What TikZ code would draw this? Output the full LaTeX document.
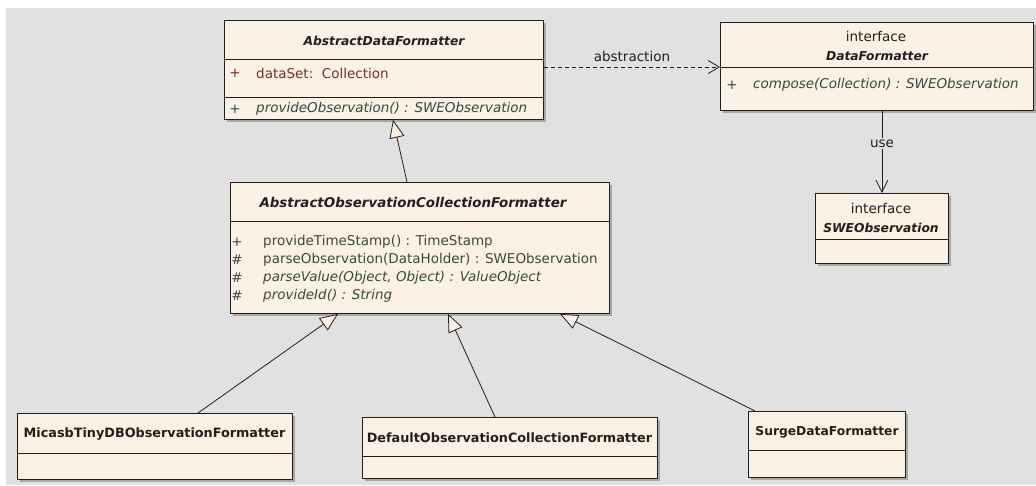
\documentclass[tikz,border=0pt]{standalone}
\usepackage{fontspec}
\setmainfont{DejaVu Sans}
\usetikzlibrary{arrows.meta,shadows}

\definecolor{canvas}{HTML}{E1E1E1}
\definecolor{classfill}{HTML}{FBF2E5}
\definecolor{edgecol}{HTML}{1E1E1E}
\definecolor{namecol}{HTML}{231F1F}
\definecolor{attrcol}{HTML}{7A2E2A}
\definecolor{opcol}{HTML}{2F4A44}
\definecolor{viscol}{HTML}{3A4A3A}

\newcommand\regfont{\fontsize{13.5}{16}\selectfont}
\newcommand\namefont{\fontsize{12.3}{15}\selectfont\bfseries}
\newcommand\bignamefont{\fontsize{13.4}{16}\selectfont\bfseries}
\newcommand\leafnamefont{\fontsize{12.8}{15}\selectfont\bfseries}

\tikzset{
  classbox/.style={draw=edgecol, line width=0.9pt, fill=classfill, anchor=north west,
    inner sep=0pt, drop shadow={shadow xshift=2.5pt, shadow yshift=-2.5pt, opacity=0.25, fill=black}},
  sepline/.style={draw=edgecol, line width=0.9pt},
  absname/.style={font=\namefont\itshape, text=namecol, inner sep=0pt},
  concname/.style={font=\leafnamefont, text=namecol, inner sep=0pt},
  stereo/.style={font=\regfont, text=namecol, inner sep=0pt},
  vis/.style={font=\regfont, text=viscol, inner sep=0pt},
  member/.style={font=\regfont, anchor=west, inner sep=0pt},
  gen/.style={draw=edgecol, line width=0.8pt, -{Triangle[length=18pt, width=15pt, fill=classfill]}},
  realize/.style={draw=edgecol, line width=0.8pt, dashed, dash pattern=on 4pt off 3pt,
    -{Straight Barb[length=11pt, width=13pt]}},
  usage/.style={draw=edgecol, line width=0.8pt, -{Straight Barb[length=12pt, width=12pt]}},
  edgelabel/.style={font=\regfont, text=namecol, inner sep=1.5pt}
}

\begin{document}
\begin{tikzpicture}[x=1pt, y=-1pt]
  % page and canvas
  \useasboundingbox (0,0) rectangle (1036,485);
  \fill[white] (0,0) rectangle (1036,485);
  \fill[canvas] (6,8) rectangle (1036,485);

  % AbstractDataFormatter
  \node[classbox, minimum width=319pt, minimum height=99pt] (adf) at (224,20) {};
  \draw[sepline] (224,59) -- (543,59);
  \draw[sepline] (224,97) -- (543,97);
  \node[absname] (adfname) at (384,41) {AbstractDataFormatter};
  \node[vis, text=attrcol] (adfv1) at (235,73) {+};
  \node[member, text=attrcol] (adfa1) at (256,73) {dataSet:\ \ Collection};
  \node[vis, text=opcol] (adfv2) at (235,109) {+};
  \node[member, text=opcol, font=\regfont\itshape] (adfo1) at (256,109) {provideObservation() : SWEObservation};

  % interface DataFormatter
  \node[classbox, minimum width=313pt, minimum height=88pt] (df) at (720,22) {};
  \draw[sepline] (720,67) -- (1033,67);
  \node[stereo] (dfst) at (876,36) {interface};
  \node[absname] (dfname) at (877,56) {DataFormatter};
  \node[vis, text=opcol] (dfv1) at (732,85) {+};
  \node[member, text=opcol, font=\regfont\itshape] (dfo1) at (753,85) {compose(Collection) : SWEObservation};

  % interface SWEObservation
  \node[classbox, minimum width=133pt, minimum height=70pt] (swe) at (815,193) {};
  \draw[sepline] (815,239) -- (948,239);
  \node[stereo] (swest) at (881,208) {interface};
  \node[absname] (swename) at (881,228) {SWEObservation};

  % AbstractObservationCollectionFormatter
  \node[classbox, minimum width=379pt, minimum height=131pt] (aocf) at (230,182) {};
  \draw[sepline] (230,221) -- (609,221);
  \node[absname, font=\bignamefont\itshape] (aocfname) at (413,202) {AbstractObservationCollectionFormatter};
  \node[vis] (aocfv1) at (237,242) {+};
  \node[member, text=viscol] (aocfo1) at (263,242) {provideTimeStamp() : TimeStamp};
  \node[vis] (aocfv2) at (237,260) {\#};
  \node[member, text=viscol] (aocfo2) at (263,260) {parseObservation(DataHolder) : SWEObservation};
  \node[vis] (aocfv3) at (237,278) {\#};
  \node[member, text=viscol, font=\regfont\itshape] (aocfo3) at (263,278) {parseValue(Object, Object) : ValueObject};
  \node[vis] (aocfv4) at (237,296) {\#};
  \node[member, text=viscol, font=\regfont\itshape] (aocfo4) at (263,296) {provideId() : String};

  % concrete formatters
  \node[classbox, minimum width=275pt, minimum height=66pt] (mic) at (17,413) {};
  \draw[sepline] (17,453) -- (292,453);
  \node[concname] (micname) at (154.5,434) {MicasbTinyDBObservationFormatter};

  \node[classbox, minimum width=295pt, minimum height=61pt] (dof) at (362,417) {};
  \draw[sepline] (362,456) -- (657,456);
  \node[concname] (dofname) at (509.5,438) {DefaultObservationCollectionFormatter};

  \node[classbox, minimum width=157pt, minimum height=66pt] (sdf) at (748,411) {};
  \draw[sepline] (748,450) -- (905,450);
  \node[concname, font=\namefont] (sdfname) at (827,432) {SurgeDataFormatter};

  % relationships
  \coordinate (dfport) at (720,67);
  \draw[realize] (adf.east |- dfport) -- node[edgelabel, above=3pt] (abslabel) {abstraction} (dfport);
  \draw[usage] (swe.north |- df.south) -- node[edgelabel, fill=canvas, pos=0.4] (uselabel) {use} (swe.north);

  \draw[gen] ([xshift=177pt]aocf.north west) -- ([xshift=169pt]adf.south west);
  \draw[gen] ([xshift=181pt]mic.north west) -- ([xshift=108pt]aocf.south west);
  \draw[gen] ([xshift=133pt]dof.north west) -- ([xshift=218pt]aocf.south west);
  \draw[gen] ([xshift=7pt]sdf.north west) -- ([xshift=330pt]aocf.south west);
\end{tikzpicture}
\end{document}
